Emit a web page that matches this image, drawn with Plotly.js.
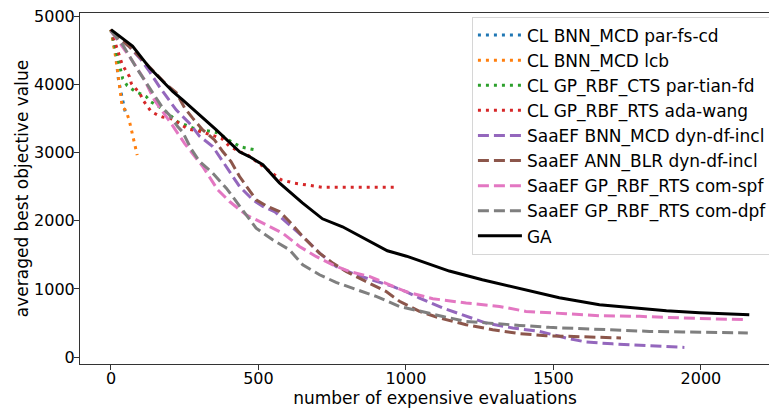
<!DOCTYPE html>
<html>
<head>
<meta charset="utf-8">
<script src="https://cdn.plot.ly/plotly-3.0.1.min.js"></script>
<style>html,body{margin:0;padding:0;background:#fff;overflow:hidden;width:769px;height:410px;}#chart{width:790px;height:410px;}</style>
</head>
<body>
<div id="chart"></div>
<script>
// ---- data ----
const names = [
  "CL BNN_MCD par-fs-cd",
  "CL BNN_MCD lcb",
  "CL GP_RBF_CTS par-tian-fd",
  "CL GP_RBF_RTS ada-wang",
  "SaaEF BNN_MCD dyn-df-incl",
  "SaaEF ANN_BLR dyn-df-incl",
  "SaaEF GP_RBF_RTS com-spf",
  "SaaEF GP_RBF_RTS com-dpf",
  "GA"
];

const blueX = [0, 8, 14, 18, 20, 25, 35, 45, 51];
const blueY = [4800, 4640, 4520, 4400, 4280, 4080, 3860, 3680, 3540];

const orangeX = [0, 8, 15, 22, 26, 32, 38, 47, 55, 62, 70, 76, 80, 84, 89];
const orangeY = [4800, 4620, 4420, 4210, 4050, 3860, 3670, 3630, 3560, 3470, 3330, 3230, 3140, 3060, 2960];

const greenX = [0, 20, 30, 40, 55, 80, 119, 136, 175, 226, 277, 317, 361, 407, 441, 487];
const greenY = [4800, 4450, 4300, 4080, 3980, 3900, 3820, 3740, 3640, 3450, 3360, 3330, 3290, 3160, 3080, 3040];

const redX = [0, 15, 38, 63, 69, 83, 99, 108, 123, 136, 158, 175, 209, 238, 260, 300, 327, 374, 402, 446, 463, 537, 577, 622, 696, 717, 967];
const redY = [4800, 4600, 4290, 4110, 4010, 3940, 3860, 3770, 3670, 3600, 3550, 3520, 3490, 3400, 3345, 3310, 3270, 3210, 3090, 2990, 2965, 2730, 2600, 2550, 2510, 2490, 2490];

const purpleX = [0, 60, 100, 131, 164, 198, 221, 266, 300, 345, 391, 436, 481, 515, 554, 605, 662, 707, 763, 831, 899, 955, 1000, 1046, 1125, 1204, 1272, 1362, 1453, 1543, 1611, 1700, 1769, 1859, 1944];
const purpleY = [4780, 4560, 4370, 4184, 3965, 3770, 3624, 3429, 3240, 3087, 2790, 2500, 2306, 2208, 2135, 1940, 1720, 1525, 1330, 1208, 1110, 1037, 960, 867, 720, 597, 500, 428, 378, 281, 222, 195, 183, 158, 143];

const brownX = [0, 60, 120, 187, 221, 250, 277, 311, 351, 379, 407, 436, 492, 526, 571, 605, 650, 707, 752, 797, 864, 932, 978, 1046, 1114, 1204, 1294, 1385, 1475, 1565, 1656, 1729];
const brownY = [4780, 4560, 4300, 4000, 3880, 3650, 3503, 3331, 3184, 3013, 2867, 2647, 2306, 2218, 2135, 1988, 1769, 1525, 1379, 1257, 1110, 964, 820, 671, 574, 476, 403, 344, 315, 305, 290, 281];

const pinkX = [0, 63, 114, 147, 200, 250, 311, 334, 362, 402, 458, 515, 582, 639, 695, 752, 808, 876, 944, 1000, 1091, 1204, 1317, 1407, 1543, 1656, 1792, 1938, 2159];
const pinkY = [4780, 4404, 4063, 3770, 3450, 3130, 2794, 2647, 2452, 2281, 2086, 1965, 1818, 1623, 1476, 1354, 1257, 1183, 1060, 960, 857, 794, 744, 671, 637, 608, 598, 574, 549];

const greyX = [0, 40, 91, 142, 176, 198, 226, 243, 272, 300, 345, 391, 436, 492, 548, 605, 650, 707, 763, 831, 899, 978, 1046, 1125, 1204, 1294, 1385, 1486, 1599, 1712, 1826, 1938, 2159];
const greyY = [4780, 4575, 4209, 3868, 3648, 3550, 3380, 3300, 3050, 2870, 2697, 2477, 2208, 1891, 1720, 1574, 1354, 1208, 1096, 988, 890, 744, 671, 597, 524, 490, 466, 437, 417, 393, 378, 369, 354];

const gaX = [0, 73, 131, 210, 243, 300, 357, 436, 469, 515, 571, 649, 717, 785, 866, 937, 1002, 1069, 1147, 1259, 1375, 1520, 1656, 1792, 1883, 1995, 2164];
const gaY = [4800, 4560, 4240, 3890, 3770, 3550, 3330, 3010, 2940, 2820, 2555, 2262, 2028, 1911, 1720, 1559, 1480, 1384, 1262, 1135, 1018, 871, 769, 710, 681, 652, 622];

const xTicks = [0, 500, 1000, 1500, 2000];
const yTicks = [0, 1000, 2000, 3000, 4000, 5000];

// ---- styles ----
const DOT = "3px,5px";
const DASH = "11px,5px";
const series = [
  [blueX, blueY, "#1f77b4", DOT],
  [orangeX, orangeY, "#ff7f0e", DOT],
  [greenX, greenY, "#2ca02c", DOT],
  [redX, redY, "#d62728", DOT],
  [purpleX, purpleY, "#9467bd", DASH],
  [brownX, brownY, "#8c564b", DASH],
  [pinkX, pinkY, "#e377c2", DASH],
  [greyX, greyY, "#7f7f7f", DASH],
  [gaX, gaY, "#000000", "solid"]
];

const traces = series.map((s, i) => ({
  type: "scatter",
  mode: "lines",
  x: s[0],
  y: s[1],
  name: names[i],
  line: {color: s[2], width: 3, dash: s[3]}
}));

const FONT = "DejaVu Sans, sans-serif";
// The reference figure is cropped on the right: draw a slightly wider figure
// and let the 769px window clip it.
const layout = {
  width: 790,
  height: 410,
  margin: {l: 80, r: 0, t: 13, b: 46},
  paper_bgcolor: "#ffffff",
  plot_bgcolor: "#ffffff",
  font: {family: FONT, size: 16, color: "#000"},
  showlegend: true,
  legend: {
    x: 0.552, y: 0.99, xanchor: "left", yanchor: "top",
    bgcolor: "rgba(255,255,255,0.85)",
    bordercolor: "#d6d6d6", borderwidth: 1,
    font: {family: FONT, size: 17, color: "#000"},
    itemwidth: 44
  },
  xaxis: {
    range: [-105, 2302],
    tickvals: xTicks,
    ticktext: xTicks.map(String),
    showgrid: false, zeroline: false,
    showline: true, linecolor: "#333", linewidth: 1, mirror: true,
    ticks: "outside", ticklen: 5, tickcolor: "#333", tickwidth: 1,
    ticklabelstandoff: -5,
    tickfont: {family: FONT, size: 16, color: "#000"},
    title: {text: "number of expensive evaluations", font: {family: FONT, size: 17, color: "#000"}, standoff: 4}
  },
  yaxis: {
    range: [-100, 5044],
    tickvals: yTicks,
    ticktext: yTicks.map(String),
    showgrid: false, zeroline: false,
    showline: true, linecolor: "#333", linewidth: 1, mirror: true,
    ticks: "outside", ticklen: 5, tickcolor: "#333", tickwidth: 1,
    ticklabelstandoff: -4,
    tickfont: {family: FONT, size: 16, color: "#000"},
    title: {text: "averaged best objective value", font: {family: FONT, size: 17, color: "#000"}, standoff: 1}
  }
};

Plotly.newPlot("chart", traces, layout, {displayModeBar: false, staticPlot: true});
</script>
</body>
</html>
